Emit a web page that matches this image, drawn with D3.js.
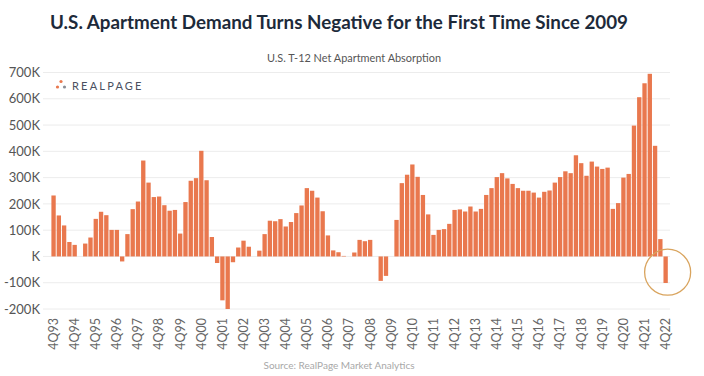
<!DOCTYPE html>
<html>
<head>
<meta charset="utf-8">
<script src="https://cdn.jsdelivr.net/npm/d3@7"></script>
<style>
    body { margin: 0; background: #fff; }
    text { font-family: Lato, "Open Sans", sans-serif; }
</style>
</head>
<body>
<div id="chart"></div>
<script>
// T-12 net absorption, thousands of units, 4Q93 .. 4Q22
var absorption = [
    232, 156, 118, 55, 44, 0, 49, 72, 143, 170, 157, 101, 101, -19, 85, 180,
    209, 365, 281, 226, 228, 195, 174, 177, 87, 207, 288, 298, 402, 290, 74, -25,
    -167, -200, -22, 34, 60, 37, 0, 22, 85, 136, 134, 142, 114, 131, 165, 194,
    260, 250, 224, 172, 80, 23, 16, 2, 0, 15, 63, 58, 63, 0, -93, -74,
    0, 139, 279, 311, 350, 303, 234, 160, 82, 101, 104, 124, 177, 179, 171, 190,
    171, 181, 234, 260, 302, 317, 297, 276, 260, 250, 250, 243, 224, 246, 251, 281,
    302, 324, 317, 385, 355, 307, 361, 342, 333, 338, 181, 203, 300, 314, 498, 606,
    659, 695, 421, 66, -101
];

var tickLabels = ["4Q93", "4Q94", "4Q95", "4Q96", "4Q97", "4Q98", "4Q99", "4Q00",
    "4Q01", "4Q02", "4Q03", "4Q04", "4Q05", "4Q06", "4Q07", "4Q08", "4Q09", "4Q10",
    "4Q11", "4Q12", "4Q13", "4Q14", "4Q15", "4Q16", "4Q17", "4Q18", "4Q19", "4Q20",
    "4Q21", "4Q22"];

var yTicks = [-200, -100, 0, 100, 200, 300, 400, 500, 600, 700];

// quarter names for the band scale
var quarters = [];
for (var i = 0; i < absorption.length; i++) {
    var q = (i + 3) % 4 + 1;
    var yr = 93 + Math.floor((i + 3) / 4);
    quarters.push(q + "Q" + String(yr % 100).padStart(2, "0"));
}

var w = 704, h = 376;
var barColor = "#E9784E";

var svg = d3.select("#chart").append("svg")
    .attr("width", w)
    .attr("height", h);

svg.append("text")
    .attr("x", 50)
    .attr("y", 29)
    .attr("fill", "#1d2a3a")
    .attr("font-size", "19.5px")
    .attr("font-weight", 700)
    .attr("textLength", 578)
    .attr("lengthAdjust", "spacingAndGlyphs")
    .text("U.S. Apartment Demand Turns Negative for the First Time Since 2009");

svg.append("text")
    .attr("x", 354)
    .attr("y", 62)
    .attr("text-anchor", "middle")
    .attr("fill", "#555")
    .attr("font-size", "12px")
    .attr("textLength", 174)
    .attr("lengthAdjust", "spacingAndGlyphs")
    .text("U.S. T-12 Net Apartment Absorption");

var xScale = d3.scaleBand()
    .domain(quarters)
    .range([51.4, 667.8])
    .paddingInner(0.18)
    .paddingOuter(0);

var yScale = d3.scaleLinear()
    .domain([-200, 700])
    .range([309, 72.5]);

// gridlines
svg.append("g")
    .selectAll("line")
    .data(yTicks)
    .enter().append("line")
    .attr("x1", 43)
    .attr("x2", 670)
    .attr("y1", function (d) { return yScale(d); })
    .attr("y2", function (d) { return yScale(d); })
    .attr("stroke", "#ececec")
    .attr("stroke-width", 1);

var yAxis = d3.axisLeft(yScale)
    .tickValues(yTicks)
    .tickSize(0)
    .tickPadding(0)
    .tickFormat(function (d) { return d === 0 ? "K" : d + "K"; });

var gy = svg.append("g")
    .attr("transform", "translate(40,0)")
    .call(yAxis);
gy.select(".domain").remove();
gy.selectAll("text")
    .attr("fill", "#555")
    .attr("font-size", "13px")
    .attr("font-family", "Lato, sans-serif");

// bars
svg.append("g")
    .selectAll("rect")
    .data(absorption)
    .enter().append("rect")
    .attr("x", function (d, i) { return xScale(quarters[i]); })
    .attr("width", xScale.bandwidth())
    .attr("y", function (d) { return yScale(Math.max(0, d)); })
    .attr("height", function (d) { return Math.abs(yScale(d) - yScale(0)); })
    .attr("fill", barColor);

var xAxis = d3.axisBottom(xScale)
    .tickValues(tickLabels)
    .tickSize(0)
    .tickPadding(0);

var gx = svg.append("g")
    .attr("transform", "translate(0,316)")
    .call(xAxis);
gx.select(".domain").remove();
gx.selectAll("text")
    .attr("fill", "#666")
    .attr("font-size", "12.5px")
    .attr("font-family", "Lato, sans-serif")
    .attr("text-anchor", "end")
    .attr("dy", "0.35em")
    .attr("transform", "translate(0,2) rotate(-90)")
    .attr("y", 0)
    .attr("x", 0);

// highlight circle round the last quarter
var last = quarters[quarters.length - 1];
svg.append("circle")
    .attr("cx", xScale(last) + xScale.bandwidth() / 2 + 2)
    .attr("cy", yScale(-60))
    .attr("r", 23)
    .attr("fill", "none")
    .attr("stroke", "#D9A45E")
    .attr("stroke-width", 1.3);

// RealPage logo
var logo = svg.append("g").attr("transform", "translate(56,86)");
logo.append("circle").attr("cx", 5).attr("cy", -4.5).attr("r", 1.6).attr("fill", "#E9784E");
logo.append("circle").attr("cx", 1.5).attr("cy", 1).attr("r", 1.6).attr("fill", "#E9784E");
logo.append("circle").attr("cx", 8.5).attr("cy", 1).attr("r", 1.6).attr("fill", "#8a8f98");
logo.append("text")
    .attr("x", 16)
    .attr("y", 4)
    .attr("fill", "#4a5060")
    .attr("font-size", "11px")
    .attr("letter-spacing", "2.2px")
    .text("REALPAGE");

svg.append("text")
    .attr("x", 339)
    .attr("y", 369)
    .attr("text-anchor", "middle")
    .attr("fill", "#a8a8a8")
    .attr("font-size", "10px")
    .text("Source: RealPage Market Analytics");
</script>
</body>
</html>
